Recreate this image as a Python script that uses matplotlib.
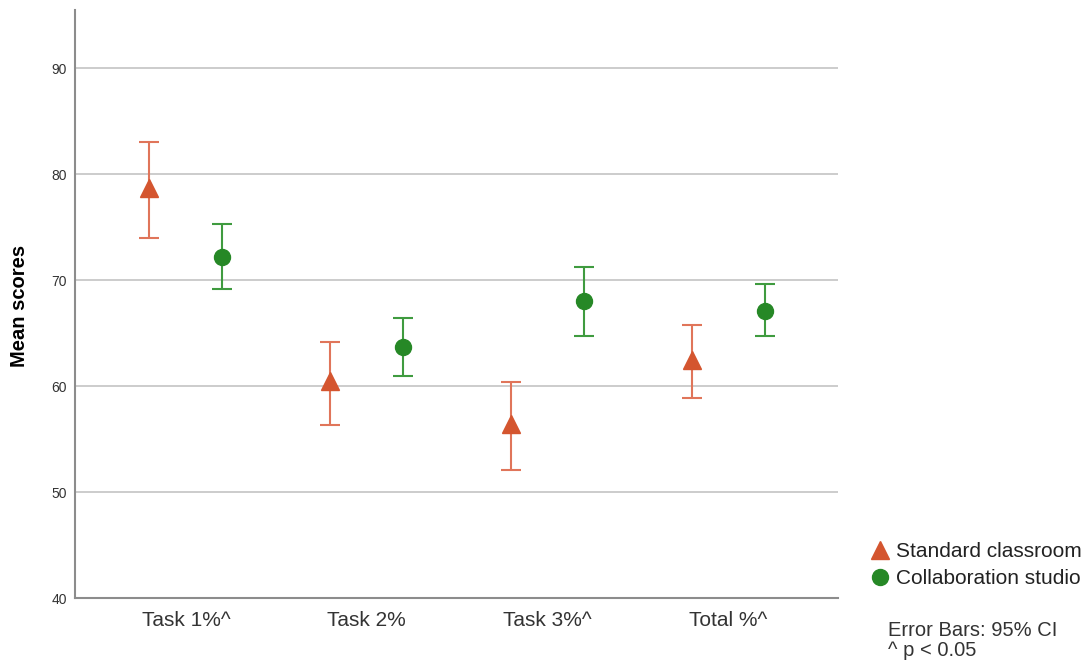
import matplotlib

matplotlib.use("Agg")
import matplotlib.pyplot as plt
import numpy as np
from matplotlib.lines import Line2D

plt.rcParams["font.family"] = ["Liberation Sans", "DejaVu Sans"]

categories = ["Task 1%^", "Task 2%", "Task 3%^", "Total %^"]

standard_mean = [78.7, 60.5, 56.4, 62.5]
standard_low = [74.0, 56.3, 52.1, 58.9]
standard_high = [83.0, 64.2, 60.4, 65.8]

studio_mean = [72.2, 63.7, 68.0, 67.1]
studio_low = [69.2, 61.0, 64.7, 64.7]
studio_high = [75.3, 66.4, 71.2, 69.6]

orange = "#d4552f"
orange_bar = "#e0755a"
green = "#268826"
green_bar = "#3f9b3f"

fig = plt.figure(figsize=(10.87, 6.63), dpi=100)
ax = fig.add_axes([75 / 1087, 65 / 663, 763 / 1087, 588 / 663])

x = np.arange(len(categories))
off = 0.202

def draw(xpos, mean, low, high, marker, color, bar_color, ms):
    mean = np.array(mean)
    yerr = [mean - np.array(low), np.array(high) - mean]
    ax.errorbar(xpos, mean, yerr=yerr, fmt="none", ecolor=bar_color,
                elinewidth=1.5, capsize=7, capthick=1.5, zorder=3)
    ax.plot(xpos, mean, linestyle="none", marker=marker, markersize=ms,
            color=color, markeredgecolor=color, zorder=4)

draw(x - off, standard_mean, standard_low, standard_high, "^", orange, orange_bar, 13)
draw(x + off, studio_mean, studio_low, studio_high, "o", green, green_bar, 11.5)

ax.set_ylim(40, 95.5)
ax.set_xlim(-0.614, 3.608)
ax.set_yticks([40, 50, 60, 70, 80, 90])
ax.set_xticks(x)
ax.set_xticklabels(categories, fontsize=15, color="#333333")
ax.tick_params(axis="y", length=0, pad=6, labelsize=10, labelcolor="#333333")
ax.tick_params(axis="x", length=0, pad=9)
ax.yaxis.grid(True, color="#cccccc", linewidth=1.4)
ax.set_axisbelow(True)

for side in ["top", "right"]:
    ax.spines[side].set_visible(False)
for side in ["left", "bottom"]:
    ax.spines[side].set_color("#8c8c8c")
    ax.spines[side].set_linewidth(1.5)

fig.text(20 / 1087, 1 - 306 / 663, "Mean scores", rotation=90, fontsize=14.5,
         fontweight="bold", ha="center", va="center")

handles = [
    Line2D([], [], linestyle="none", marker="^", markersize=13, color=orange),
    Line2D([], [], linestyle="none", marker="o", markersize=11.5, color=green),
]
leg = fig.legend(handles, ["Standard classroom", "Collaboration studio"],
                 loc="upper left", bbox_to_anchor=(872 / 1087, 1 - 542 / 663),
                 frameon=False, fontsize=15, borderpad=0, borderaxespad=0,
                 handlelength=0.8, handletextpad=0.35, labelspacing=0.4)
for t in leg.get_texts():
    t.set_color("#222222")

fig.text(888 / 1087, 1 - 631 / 663, "Error Bars: 95% CI", fontsize=14.5,
         color="#333333", va="center", ha="left")
fig.text(888 / 1087, 1 - 651 / 663, "^ p < 0.05", fontsize=14.5,
         color="#333333", va="center", ha="left")

fig.savefig("out.png", dpi=100)
